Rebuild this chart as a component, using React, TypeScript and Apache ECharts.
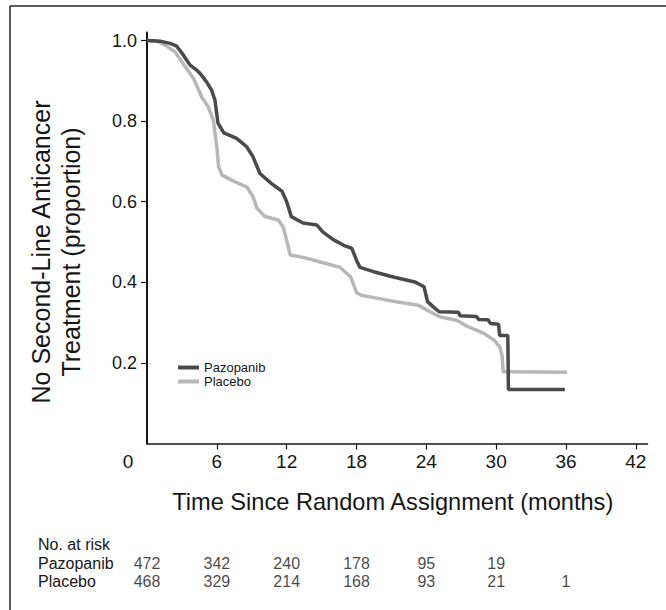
import React, { useEffect, useRef } from "react";
import * as echarts from "echarts";

// ---- data ----
const xTicks = [0, 6, 12, 18, 24, 30, 36, 42];
const yTicks = [0.2, 0.4, 0.6, 0.8, 1.0];
const seriesNames = ["Pazopanib", "Placebo"];

const pazopanib: [number, number][] = [
  [0, 1.0], [1.2, 0.998], [2.0, 0.993], [2.55, 0.986], [3.1, 0.965], [3.7, 0.939],
  [4.3, 0.926], [4.6, 0.917], [5.1, 0.898], [5.55, 0.877], [5.84, 0.852], [6.1, 0.795],
  [6.6, 0.771], [7.7, 0.757], [8.55, 0.737], [9.1, 0.712], [9.7, 0.67], [10.7, 0.645],
  [11.6, 0.626], [12.0, 0.6], [12.4, 0.563], [13.4, 0.547], [14.6, 0.542], [15.1, 0.525],
  [16.0, 0.506], [16.9, 0.492], [17.6, 0.484], [18.0, 0.455], [18.3, 0.437], [19.4, 0.427],
  [20.9, 0.415], [23.0, 0.401], [23.8, 0.389], [24.1, 0.352], [24.6, 0.339], [25.1, 0.327],
  [26.75, 0.326], [26.9, 0.317], [28.3, 0.315], [28.5, 0.308], [29.3, 0.307], [29.5, 0.298],
  [30.2, 0.296], [30.3, 0.268], [31.0, 0.268], [31.05, 0.134], [35.9, 0.134],
];

const placebo: [number, number][] = [
  [0, 1.0], [0.9, 0.998], [1.6, 0.988], [2.4, 0.972], [3.1, 0.943], [4.0, 0.906],
  [4.7, 0.86], [5.25, 0.836], [5.7, 0.802], [6.0, 0.736], [6.15, 0.687], [6.45, 0.666],
  [7.3, 0.653], [8.6, 0.636], [9.1, 0.613], [9.45, 0.584], [10.1, 0.564], [11.3, 0.554],
  [11.7, 0.537], [12.0, 0.504], [12.3, 0.468], [13.7, 0.46], [14.8, 0.451], [16.6, 0.437],
  [17.5, 0.413], [18.0, 0.375], [18.4, 0.368], [19.5, 0.362], [21.4, 0.352], [23.3, 0.343],
  [24.3, 0.327], [25.2, 0.314], [26.6, 0.306], [27.5, 0.291], [28.9, 0.274], [29.8, 0.257],
  [30.3, 0.24], [30.5, 0.219], [30.6, 0.178], [36.1, 0.177],
];

const riskTimes = [0, 6, 12, 18, 24, 30, 36];
const riskPazopanib: (number | null)[] = [472, 342, 240, 178, 95, 19, null];
const riskPlacebo: (number | null)[] = [468, 329, 214, 168, 93, 21, 1];
const riskTitle = "No. at risk";

const xTitle = "Time Since Random Assignment (months)";
const yTitle = "No Second-Line Anticancer\nTreatment (proportion)";

const FONT = "'Liberation Sans', Arial, Helvetica, sans-serif";
const INK = "#161616";
const DARK = "#4a4a4a";
const LIGHT = "#b7b7b7";

export default function App() {
  const ref = useRef<HTMLDivElement>(null);

  useEffect(() => {
    if (!ref.current) return;
    const chart = echarts.init(ref.current, undefined, { renderer: "svg" });

    const riskRow = (vals: (number | null)[], row: number) =>
      riskTimes
        .map((t, i) => (vals[i] == null ? null : [t, row, vals[i]]))
        .filter((d) => d !== null);

    const riskSeries = (name: string, vals: (number | null)[], row: number) => ({
      name,
      type: "scatter",
      xAxisIndex: 1,
      yAxisIndex: 1,
      silent: true,
      symbolSize: 1,
      itemStyle: { color: "rgba(0,0,0,0)" },
      label: {
        show: true,
        position: "inside",
        formatter: (p: any) => String(p.value[2]),
        fontSize: 16,
        fontFamily: FONT,
        color: INK,
      },
      data: riskRow(vals, row),
    });

    chart.setOption({
      animation: false,
      backgroundColor: "#ffffff",
      textStyle: { fontFamily: FONT },
      grid: [
        { left: 147, top: 32.5, width: 500.5, height: 411 },
        { left: 147, top: 554, width: 500.5, height: 36 },
      ],
      legend: {
        data: seriesNames,
        orient: "vertical",
        left: 173,
        top: 356,
        itemWidth: 21,
        itemHeight: 4,
        itemGap: 1,
        icon: "rect",
        selectedMode: false,
        textStyle: { fontSize: 13, lineHeight: 13, color: INK, fontFamily: FONT },
      },
      xAxis: [
        {
          type: "value",
          gridIndex: 0,
          min: 0,
          max: 43,
          name: xTitle,
          nameLocation: "middle",
          nameGap: 46,
          nameTextStyle: {
            fontSize: 23.6,
            color: INK,
            fontFamily: FONT,
            padding: [0, 9, 0, 0],
          },
          axisLine: { show: true, onZero: false, lineStyle: { color: INK, width: 1.5 } },
          axisTick: {
            show: true,
            length: 6,
            customValues: xTicks.filter((v) => v !== 0),
            lineStyle: { color: INK, width: 1.2 },
          },
          axisLabel: {
            customValues: xTicks,
            fontSize: 19,
            margin: 8,
            color: INK,
            fontFamily: FONT,
            formatter: (v: number) => (v === 0 ? "{z|0}" : String(v)),
            rich: {
              z: { fontSize: 19, color: INK, fontFamily: FONT, padding: [0, 38, 0, 0] },
            },
          },
          splitLine: { show: false },
        },
        { type: "value", gridIndex: 1, min: 0, max: 43, show: false },
      ],
      yAxis: [
        {
          type: "value",
          gridIndex: 0,
          min: 0,
          max: 1.02,
          name: yTitle,
          nameLocation: "middle",
          nameRotate: 90,
          nameGap: 61,
          nameTextStyle: {
            fontSize: 25,
            lineHeight: 30,
            color: INK,
            fontFamily: FONT,
            padding: [0, 28, 0, 0],
          },
          axisLine: { show: true, onZero: false, lineStyle: { color: INK, width: 2 } },
          axisTick: {
            show: true,
            length: 6,
            customValues: yTicks,
            lineStyle: { color: INK, width: 1.2 },
          },
          axisLabel: {
            customValues: yTicks,
            fontSize: 18,
            margin: 10,
            color: INK,
            fontFamily: FONT,
            formatter: (v: number) => v.toFixed(1),
          },
          splitLine: { show: false },
        },
        { type: "value", gridIndex: 1, min: 0, max: 2, show: false },
      ],
      series: [
        {
          name: "Placebo",
          type: "line",
          xAxisIndex: 0,
          yAxisIndex: 0,
          data: placebo,
          showSymbol: false,
          symbol: "none",
          color: LIGHT,
          lineStyle: { color: LIGHT, width: 3.5 },
          z: 2,
        },
        {
          name: "Pazopanib",
          type: "line",
          xAxisIndex: 0,
          yAxisIndex: 0,
          data: pazopanib,
          showSymbol: false,
          symbol: "none",
          color: DARK,
          lineStyle: { color: DARK, width: 3.5 },
          z: 3,
        },
        riskSeries("risk-pazopanib", riskPazopanib, 1.5),
        riskSeries("risk-placebo", riskPlacebo, 0.5),
      ],
      graphic: [
        {
          type: "line",
          shape: { x1: 10, y1: 6, x2: 10, y2: 610 },
          style: { stroke: "#222", lineWidth: 1.5 },
        },
        {
          type: "line",
          shape: { x1: 10, y1: 6, x2: 666, y2: 6 },
          style: { stroke: "#222", lineWidth: 1.5 },
        },
        {
          type: "text",
          left: 38,
          top: 536,
          style: { text: riskTitle, fontSize: 16, fill: INK, fontFamily: FONT },
        },
        {
          type: "text",
          left: 38,
          top: 555,
          style: { text: seriesNames[0], fontSize: 16, fill: INK, fontFamily: FONT },
        },
        {
          type: "text",
          left: 38,
          top: 573,
          style: { text: seriesNames[1], fontSize: 16, fill: INK, fontFamily: FONT },
        },
      ],
    });

    return () => chart.dispose();
  }, []);

  return (
    <div
      ref={ref}
      style={{ position: "absolute", left: 0, top: 0, width: 666, height: 610 }}
    />
  );
}
